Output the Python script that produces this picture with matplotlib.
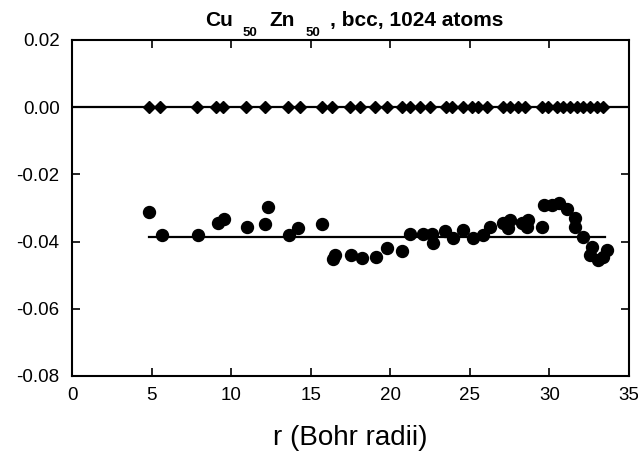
import matplotlib
matplotlib.use("Agg")
import matplotlib.pyplot as plt

plt.rcParams['font.family'] = ['Liberation Sans', 'DejaVu Sans']

# Diamonds (y = 0)
diamond_x = [4.84, 5.53, 7.84, 9.05, 9.47, 10.92, 12.13, 13.56, 14.33, 15.69,
             16.32, 17.47, 18.10, 19.04, 19.78, 20.72, 21.24, 21.87, 22.50, 23.51,
             23.87, 24.59, 25.12, 25.54, 26.07, 27.07, 27.53, 28.05, 28.47, 29.52,
             29.94, 30.47, 30.88, 31.30, 31.72, 32.14, 32.56, 32.98, 33.39]
diamond_y = [0.0] * len(diamond_x)

# Circles
circle_x = [4.84, 5.64, 7.92, 9.20, 9.57, 10.98, 12.13, 12.30, 13.62, 14.22,
            15.73, 16.39, 16.53, 17.52, 18.21, 19.11, 19.82, 20.76, 21.24, 22.04,
            22.61, 22.71, 23.44, 23.93, 24.59, 25.22, 25.85, 26.27, 27.11, 27.42,
            27.53, 28.27, 28.62, 28.68, 29.52, 29.67, 30.15, 30.63, 31.13, 31.62,
            31.62, 32.14, 32.56, 32.66, 33.08, 33.39, 33.61]
circle_y = [-0.0313, -0.0380, -0.0380, -0.0346, -0.0334, -0.0357, -0.0348, -0.0296,
            -0.0380, -0.0360, -0.0348, -0.0453, -0.0440, -0.0440, -0.0450, -0.0445,
            -0.0420, -0.0427, -0.0378, -0.0377, -0.0377, -0.0403, -0.0368, -0.0390,
            -0.0365, -0.0390, -0.0380, -0.0356, -0.0346, -0.0360, -0.0336, -0.0346,
            -0.0356, -0.0336, -0.0357, -0.0291, -0.0291, -0.0284, -0.0304, -0.0331,
            -0.0356, -0.0387, -0.0440, -0.0415, -0.0455, -0.0445, -0.0425]

# Average line
avg_x = [4.84, 33.5]
avg_y = [-0.0385, -0.0385]

xticks = [0, 5, 10, 15, 20, 25, 30, 35]
yticks = [0.02, 0.00, -0.02, -0.04, -0.06, -0.08]
ytick_labels = ['0.02', '0.00', '-0.02', '-0.04', '-0.06', '-0.08']

# Title pieces: (text, is_subscript)
title_parts = [('Cu', False), ('50', True), ('Zn', False), ('50', True),
               (', bcc, 1024 atoms', False)]

W, H = 638, 455
fig = plt.figure(figsize=(W / 100, H / 100), dpi=100)
ax = fig.add_axes([72 / W, 1 - 376 / H, (629 - 72) / W, (376 - 40) / H])

ax.axhline(0.0, color='black', lw=1.6, zorder=2)
ax.plot(diamond_x, diamond_y, linestyle='none', marker='D', markersize=6.3,
        color='black', zorder=3)
ax.plot(avg_x, avg_y, color='black', lw=1.6, zorder=2)
ax.plot(circle_x, circle_y, linestyle='none', marker='o', markersize=8.6,
        color='black', zorder=3)

ax.set_xlim(0, 35)
ax.set_ylim(-0.08, 0.02)
ax.set_xticks(xticks)
ax.set_xticklabels([str(t) for t in xticks])
ax.set_yticks(yticks)
ax.set_yticklabels(ytick_labels)

for s in ax.spines.values():
    s.set_linewidth(1.5)
ax.tick_params(direction='in', length=6, width=1.2, top=True, right=True,
               labelsize=13.5)
ax.tick_params(axis='y', pad=9)
ax.tick_params(axis='x', pad=8)

ax.set_xlabel('r (Bohr radii)', fontsize=20, labelpad=15)

# Title built from pieces (main text and lowered subscripts)
title_left_px = [205, 243, 269, 306, 330]
main_base = 1 - 25.7 / H
sub_base = 1 - 35.5 / H
for (txt, sub), xp in zip(title_parts, title_left_px):
    fig.text(xp / W, sub_base if sub else main_base, txt,
             fontsize=9.5 if sub else 15, fontweight='bold',
             ha='left', va='baseline')

fig.savefig('out.png', dpi=100)
